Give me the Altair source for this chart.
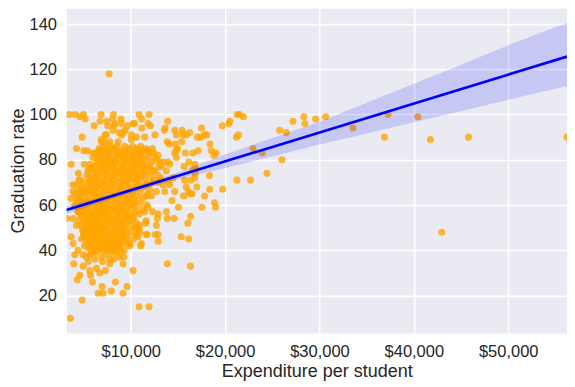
import altair as alt
import pandas as pd

# ---- scatter values (Expend, Grad.Rate) ----
right_points = [
    (15400, 88), (15450, 93), (15550, 91), (15900, 91), (16250, 92), (17050, 90), (17450, 90),
    (17500, 94), (17830, 91), (18050, 91), (18400, 87), (19700, 95), (20400, 96), (20500, 97),
    (15800, 83), (16600, 83), (17130, 84), (18540, 84), (18800, 82), (19050, 83), (16150, 79),
    (16780, 78), (15650, 77), (16600, 76), (16900, 76),
    (18350, 73), (18370, 67), (18880, 61), (19000, 59), (19750, 67), (17830, 64), (17550, 59),
    (17000, 68), (16780, 72), (16830, 74), (16360, 71), (16320, 65), (16050, 52), (16350, 55),
    (16150, 45), (16330, 33), (15700, 71), (15890, 68), (15350, 46), (15050, 59), (15600, 64),
    (16500, 65), (16100, 66),
    (21300, 100), (21500, 100), (21950, 99), (21200, 90), (21400, 91), (21250, 71), (22700, 71),
    (22950, 85), (23940, 83), (24430, 74), (26020, 80), (25780, 93), (26480, 92), (27190, 97),
    (28350, 99), (28460, 96), (29590, 98), (30650, 99), (33540, 94), (36890, 90), (37250, 100),
    (40420, 99), (41760, 89), (42960, 48), (45790, 90), (56233, 90),
]

mid_points = [
    (12894, 56), (13776, 57), (12823, 54), (13882, 54), (14588, 54), (12894, 47), (12894, 44),
    (12600, 47), (12330, 57), (13882, 34), (14376, 62), (12716, 51), (12187, 64), (12434, 71),
    (12894, 70), (13423, 69), (14129, 69), (14658, 66), (13600, 66), (12717, 66), (13952, 71),
    (13176, 72), (12450, 83), (12894, 82), (12717, 80), (13070, 79), (13423, 79), (13952, 79),
    (14129, 78), (13247, 77), (13776, 75), (12541, 75), (12894, 73), (14482, 72), (14835, 84),
    (14658, 83), (14835, 81), (14941, 85), (14729, 87), (13870, 88), (14070, 87), (12576, 91),
    (13634, 94), (13917, 97), (13564, 93), (14658, 93), (14835, 91),
]

top_points = [
    (3470, 100), (4106, 100), (4635, 99), (4988, 100), (5164, 98), (6858, 100), (8164, 100),
    (8093, 98), (8975, 98), (10881, 100), (11164, 98), (11940, 100),
    (6117, 95), (6752, 97), (7458, 97), (7564, 95), (8340, 96), (8235, 95), (9011, 96),
    (9646, 95), (10250, 96), (10420, 96), (11834, 96), (12081, 95),
    (4850, 90), (6858, 89), (7282, 91), (7423, 91), (8129, 93), (8764, 92), (9046, 91),
    (9188, 92), (9400, 93), (10070, 91), (10599, 90), (11164, 94), (11481, 90),
    (6894, 88), (7247, 88), (7776, 88), (8658, 88), (10070, 89),
    (4250, 85), (5030, 84), (5400, 84), (6011, 83), (6717, 84), (10952, 83), (11834, 84),
    (7705, 118),
]

left_points = [
    (3680, 78), (5080, 78), (3880, 69), (4070, 65), (3680, 63), (3220, 54), (3680, 46),
    (3900, 43), (4460, 74), (4650, 71), (5620, 76), (3894, 66), (4953, 66), (4070, 60),
    (4423, 57), (3894, 54), (4247, 51), (4423, 40), (5835, 39), (6717, 41),
    (11834, 59), (11481, 57), (10952, 51), (11587, 52), (10952, 48), (11728, 47), (10776, 46),
    (9893, 43), (11128, 43), (11630, 53), (10850, 49), (11050, 42), (11630, 47), (10540, 50),
]

low_points = [
    (4070, 38), (4953, 38), (5306, 37), (3965, 34), (4953, 33), (4600, 29), (4317, 27),
    (5658, 31), (5729, 29), (5941, 26), (6364, 32), (6717, 30), (7317, 31), (6964, 24),
    (6541, 21), (7070, 21), (7952, 22), (8376, 26), (9188, 21), (9611, 24), (9188, 34),
    (9258, 37), (10246, 31), (7776, 34), (7776, 36), (7952, 39), (4847, 18), (3612, 10),
    (10881, 15), (11940, 15), (9011, 39), (5700, 38), (6300, 39), (6900, 37), (7400, 38),
    (8400, 39), (8800, 37), (6200, 36), (7000, 35), (5500, 35), (8200, 36),
]

# dense core, read row by row (graduation rate -> expenditures)
core_rows = {
    86: [7150, 7850, 8550, 9350, 10200, 11050],
    85: [6650, 9800, 11600, 12300, 7500, 8250, 10700],
    84: [7450, 8200, 8950, 10550, 6900, 9600, 11100, 11800],
    83: [6300, 7000, 9300, 10000, 11300, 12050, 7750, 8700],
    82: [7700, 8500, 10800, 11900, 6600, 9250, 10200],
    81: [6000, 6800, 7350, 9100, 9800, 11200, 12550, 8400, 10450],
    80: [8000, 8750, 10350, 11650, 6600, 7250, 9500, 11000],
    79: [6450, 7150, 7850, 9450, 10900, 12200, 8400, 10100],
    78: [5700, 8350, 9050, 9900, 11400, 6700, 7400, 10600],
    77: [6150, 6900, 7600, 10500, 11950, 13000, 8100, 9200, 11300],
    76: [8150, 8900, 9600, 10150, 11100, 6000, 7000, 12100],
    75: [5450, 6400, 7250, 7900, 11700, 12450, 8600, 9500, 10300],
    74: [5950, 6700, 8500, 9250, 10000, 10700, 7350, 11400],
    73: [5350, 7500, 8200, 11300, 12100, 6400, 9100, 9800, 10700],
    72: [6200, 6900, 8800, 9550, 10400, 11000, 5700, 7800],
    71: [4500, 5650, 7300, 8150, 9900, 11600, 6300, 9200, 10700],
    70: [5150, 6450, 7750, 8750, 10500, 12300, 5800, 7050, 9600],
    69: [4200, 5900, 7000, 9300, 10950, 6500, 8200, 11700],
    68: [4850, 6300, 7600, 8300, 9900, 11400, 5500, 8900, 10600],
    67: [5500, 6800, 8950, 10400, 12000, 4700, 6100, 7500, 9700],
    66: [4400, 6050, 7250, 8050, 9500, 11000, 5300, 8700, 10200],
    65: [5200, 6600, 7850, 8700, 10200, 11800, 4600, 6000, 9400],
    64: [4650, 5750, 7000, 9200, 10700, 6400, 8200, 10000, 11600],
    63: [5050, 6300, 7500, 8350, 9800, 11300, 4400, 7000, 9100],
    62: [4300, 5550, 6850, 8000, 8950, 10400, 6200, 7500, 9700],
    61: [4900, 6100, 7300, 9500, 11000, 5500, 6700, 8400, 10300],
    60: [5400, 6600, 7800, 8600, 10100, 11700, 4800, 7200, 9200],
    59: [4650, 5900, 7100, 9050, 10500, 5300, 6600, 8200, 9900],
    58: [5150, 6400, 7550, 8350, 9700, 11200, 4600, 7000, 8900],
    57: [4400, 5650, 6900, 8000, 9300, 5000, 6300, 7400, 8700, 10500],
    56: [5000, 6200, 7300, 8700, 10000, 10900, 5600, 6700, 9400],
    55: [4700, 5800, 6700, 7900, 9500, 5300, 7300, 8600, 10200],
    54: [5350, 6450, 7150, 8400, 9050, 10300, 5900, 7800, 9600],
    53: [4550, 5900, 7700, 8800, 9900, 5200, 6500, 8200, 9300],
    52: [5100, 6250, 6900, 8100, 9400, 10600, 5700, 7500, 8700],
    51: [4750, 5600, 7400, 8500, 9950, 6200, 6900, 9200],
    50: [5300, 6500, 7050, 7900, 9000, 10400, 5900, 8500],
    49: [4900, 5850, 6800, 8300, 9500, 5300, 6300, 7500, 8900],
    48: [5450, 6300, 7300, 8750, 10050, 5000, 6800, 8100, 9300],
    47: [5050, 6000, 7700, 9150, 10600, 5500, 6600, 8400],
    46: [5600, 6550, 7150, 8200, 9650, 5000, 6000, 7700, 9000],
    45: [4800, 6250, 7450, 8600, 10300, 5500, 6900, 8000, 9500],
    44: [5300, 5900, 6900, 8000, 9100, 6300, 7400, 8500],
    43: [5650, 6500, 7600, 8500, 9500, 6000, 7100, 8900],
    42: [5100, 6150, 7200, 8250, 9900, 5700, 6700, 7700, 8700],
    41: [5500, 6700, 7800, 8800, 6200, 7300, 8300],
    40: [5900, 6350, 7400, 8400, 9300, 6900, 7900],
}

# ---- regression line and its confidence band ----
line_x = [3186, 56233]
line_y = [57.8, 125.6]
band_x = [3186, 6000, 9660, 13000, 16000, 20000, 25000, 30000, 35000, 40000, 45000, 50000, 56233]
band_lo = [56.0, 60.0, 64.9, 69.0, 72.5, 76.3, 81.4, 86.7, 91.6, 96.6, 101.5, 106.5, 112.6]
band_hi = [59.6, 62.6, 67.0, 71.6, 75.9, 82.4, 89.6, 96.8, 105.2, 113.6, 122.0, 130.6, 140.6]

x_ticks = [10000, 20000, 30000, 40000, 50000]
y_ticks = [20, 40, 60, 80, 100, 120, 140]

# ---- tables ----
pts = right_points + mid_points + top_points + left_points + low_points
for g, xs in core_rows.items():
    pts += [(x, g) for x in xs]
df_pts = pd.DataFrame(pts, columns=["expend", "grad"])
df_line = pd.DataFrame({"expend": line_x, "grad": line_y})
df_band = pd.DataFrame({"expend": band_x, "lo": band_lo, "hi": band_hi})

FONT = "Liberation Sans"
TXT = "#262626"

x_scale = alt.Scale(domain=[3186, 56233], nice=False, zero=False)
y_scale = alt.Scale(domain=[3.5, 147], nice=False, zero=False)

x_axis = alt.Axis(
    title="Expenditure per student", values=x_ticks, format="$,.0f",
    ticks=False, domain=False, grid=True, gridColor="white", gridWidth=1.6,
    labelFont=FONT, labelFontSize=16.5, labelColor=TXT, labelPadding=11,
    titleFont=FONT, titleFontSize=18, titleColor=TXT, titleFontWeight="normal",
    titlePadding=2, labelFlush=False,
)
y_axis = alt.Axis(
    title="Graduation rate", values=y_ticks,
    ticks=False, domain=False, grid=True, gridColor="white", gridWidth=1.6,
    labelFont=FONT, labelFontSize=16.5, labelColor=TXT, labelPadding=10,
    titleFont=FONT, titleFontSize=18, titleColor=TXT, titleFontWeight="normal",
    titlePadding=1,
)

points = alt.Chart(df_pts).mark_circle(
    size=50, color="#FFA500", opacity=0.8, clip=True
).encode(
    x=alt.X("expend:Q", scale=x_scale, axis=x_axis),
    y=alt.Y("grad:Q", scale=y_scale, axis=y_axis),
)

band = alt.Chart(df_band).mark_area(
    color="#0000FF", opacity=0.15, clip=True
).encode(
    x=alt.X("expend:Q", scale=x_scale),
    y=alt.Y("lo:Q", scale=y_scale),
    y2="hi:Q",
)

line = alt.Chart(df_line).mark_line(
    color="#0000FF", strokeWidth=2.6, clip=True
).encode(
    x=alt.X("expend:Q", scale=x_scale),
    y=alt.Y("grad:Q", scale=y_scale),
)

chart = alt.layer(points, band, line).properties(
    width=501, height=325,
    autosize=alt.AutoSizeParams(type="none"),
    padding={"left": 58.5, "top": 0, "right": 0, "bottom": 53},
).configure_view(fill="#EAEAF2", stroke="transparent")

chart.save("out.html", embed_options={"renderer": "svg", "actions": False})
